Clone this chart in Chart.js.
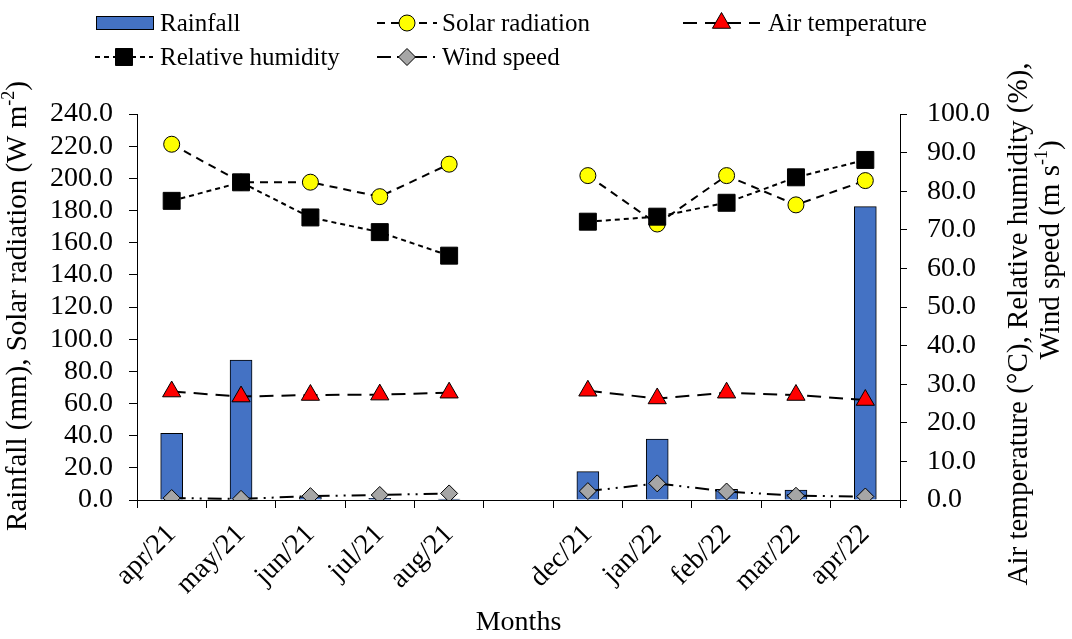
<!DOCTYPE html>
<html>
<head>
<meta charset="utf-8">
<script src="https://cdn.jsdelivr.net/npm/chart.js@4.4.0/dist/chart.umd.min.js"></script>
<style>
  html, body { margin: 0; padding: 0; background: #fff; }
  #wrap { width: 1072px; height: 639px; position: relative; }
</style>
</head>
<body>
<div id="wrap"><canvas id="weatherChart"></canvas></div>
<script>
// Data (blank category = gap between aug/21 and dec/21)
const months = ["apr/21", "may/21", "jun/21", "jul/21", "aug/21", "", "dec/21", "jan/22", "feb/22", "mar/22", "apr/22"];
const rainfall = [41.5, 87.0, 2.0, 1.0, 0.5, null, 17.6, 37.9, 6.6, 6.2, 182.4];
const solarRadiation = [221.2, 197.6, 197.6, 188.6, 208.8, null, 201.7, 171.6, 201.7, 183.5, 198.6];
const airTemperature = [28.1, 26.8, 27.2, 27.3, 27.8, null, 28.3, 26.3, 27.8, 27.2, 25.9];
const relativeHumidity = [77.5, 82.3, 73.2, 69.4, 63.3, null, 72.1, 73.4, 77.0, 83.6, 88.1];
const windSpeed = [0.5, 0.3, 1.0, 1.3, 1.7, null, 2.3, 4.3, 2.2, 1.1, 0.9];

// Axis ranges
const leftMin = 0, leftMax = 240, leftStep = 20;
const rightMin = 0, rightMax = 100, rightStep = 10;

const FONT = '"Liberation Serif", "Times New Roman", serif';

// draw a marker like chart.js does
function drawMarker(ctx, style, x, y, r, fill) {
  ctx.save();
  ctx.setLineDash([]);
  ctx.fillStyle = fill;
  ctx.strokeStyle = "#000";
  ctx.lineWidth = 1;
  ctx.beginPath();
  if (style === "circle") {
    ctx.arc(x, y, r, 0, Math.PI * 2);
  } else if (style === "rect") {
    const s = r * Math.SQRT1_2;
    ctx.rect(x - s, y - s, 2 * s, 2 * s);
  } else if (style === "triangle") {
    const a = (2 * Math.PI) / 3;
    ctx.moveTo(x, y - r);
    ctx.lineTo(x + r * Math.sin(a), y - r * Math.cos(a));
    ctx.lineTo(x - r * Math.sin(a), y - r * Math.cos(a));
    ctx.closePath();
  } else if (style === "rectRot") {
    ctx.moveTo(x, y - r);
    ctx.lineTo(x + r, y);
    ctx.lineTo(x, y + r);
    ctx.lineTo(x - r, y);
    ctx.closePath();
  }
  ctx.fill();
  ctx.stroke();
  ctx.restore();
}

// rotated (-90deg) text with superscript parts
function drawRotatedText(ctx, parts, cx, cy, size) {
  ctx.save();
  ctx.translate(cx, cy);
  ctx.rotate(-Math.PI / 2);
  let total = 0;
  parts.forEach((p) => {
    ctx.font = (p.sup ? Math.round(size * 0.62) : size) + "px " + FONT;
    p.w = ctx.measureText(p.t).width;
    total += p.w;
  });
  let x = -total / 2;
  ctx.textAlign = "left";
  ctx.textBaseline = "middle";
  ctx.fillStyle = "#000";
  parts.forEach((p) => {
    ctx.font = (p.sup ? Math.round(size * 0.62) : size) + "px " + FONT;
    ctx.fillText(p.t, x, p.sup ? -size * 0.3 : 0);
    x += p.w;
  });
  ctx.restore();
}

// Legend and y-axis titles
const extrasPlugin = {
  id: "extras",
  afterDraw(chart) {
    const ctx = chart.ctx;
    const ds = chart.data.datasets;

    const legendItems = [
      { i: 0, x0: 96, x1: 153, y: 23, tx: 160 },
      { i: 1, x0: 377, x1: 437, y: 23, tx: 442 },
      { i: 2, x0: 683, x1: 760, y: 23, tx: 768 },
      { i: 3, x0: 95, x1: 153, y: 57, tx: 160 },
      { i: 4, x0: 377, x1: 437, y: 57, tx: 442 },
    ];

    legendItems.forEach((it) => {
      const d = ds[it.i];
      if (d.type === "bar") {
        ctx.save();
        ctx.fillStyle = d.backgroundColor;
        ctx.strokeStyle = "#000";
        ctx.lineWidth = 1;
        ctx.fillRect(it.x0, it.y - 6.5, it.x1 - it.x0, 13);
        ctx.strokeRect(it.x0 + 0.5, it.y - 6.5, it.x1 - it.x0, 13);
        ctx.restore();
      } else {
        ctx.save();
        ctx.strokeStyle = "#000";
        ctx.lineWidth = 2;
        ctx.setLineDash(d.borderDash);
        ctx.beginPath();
        ctx.moveTo(it.x0, it.y);
        ctx.lineTo(it.x1, it.y);
        ctx.stroke();
        ctx.restore();
        drawMarker(ctx, d.pointStyle, (it.x0 + it.x1) / 2, it.y, d.pointRadius, d.pointBackgroundColor);
      }
      ctx.save();
      ctx.font = "25px " + FONT;
      ctx.fillStyle = "#000";
      ctx.textAlign = "left";
      ctx.textBaseline = "middle";
      ctx.fillText(d.label, it.tx, it.y + 1);
      ctx.restore();
    });

    const midY = (chart.chartArea.top + chart.chartArea.bottom) / 2;
    drawRotatedText(ctx, [{ t: "Rainfall (mm), Solar radiation (W m" }, { t: "-2", sup: true }, { t: ")" }], 18, midY - 1, 29);
    drawRotatedText(ctx, [{ t: "Air temperature (°C), Relative humidity (%)," }], 1019, 324, 29);
    drawRotatedText(ctx, [{ t: "Wind speed (m s" }, { t: "-1", sup: true }, { t: ")" }], 1051, 250, 29);
  },
};

document.addEventListener("DOMContentLoaded", function () {
  const ctx = document.getElementById("weatherChart");
  new Chart(ctx, {
    type: "bar",
    data: {
      labels: months,
      datasets: [
        {
          type: "bar",
          label: "Rainfall",
          data: rainfall,
          yAxisID: "y",
          backgroundColor: "#4472C4",
          borderColor: "#000",
          borderWidth: 1,
          barThickness: 22,
          order: 10,
        },
        {
          type: "line",
          label: "Solar radiation",
          data: solarRadiation,
          yAxisID: "y",
          borderColor: "#000",
          borderWidth: 2,
          borderDash: [8, 6],
          pointStyle: "circle",
          pointRadius: 8,
          pointBackgroundColor: "#FFFF00",
          pointBorderColor: "#000",
          pointBorderWidth: 1,
          order: 4,
        },
        {
          type: "line",
          label: "Air temperature",
          data: airTemperature,
          yAxisID: "y1",
          borderColor: "#000",
          borderWidth: 2,
          borderDash: [14, 8],
          pointStyle: "triangle",
          pointRadius: 10.5,
          pointBackgroundColor: "#FF0000",
          pointBorderColor: "#000",
          pointBorderWidth: 1,
          order: 3,
        },
        {
          type: "line",
          label: "Relative humidity",
          data: relativeHumidity,
          yAxisID: "y1",
          borderColor: "#000",
          borderWidth: 2,
          borderDash: [5, 4],
          pointStyle: "rect",
          pointRadius: 12,
          pointBackgroundColor: "#000",
          pointBorderColor: "#000",
          pointBorderWidth: 1,
          order: 2,
        },
        {
          type: "line",
          label: "Wind speed",
          data: windSpeed,
          yAxisID: "y1",
          borderColor: "#000",
          borderWidth: 2,
          borderDash: [14, 6, 2, 6, 2, 6],
          pointStyle: "rectRot",
          pointRadius: 8.5,
          pointBackgroundColor: "#A6A6A6",
          pointBorderColor: "#000",
          pointBorderWidth: 1,
          order: 1,
        },
      ],
    },
    options: {
      responsive: true,
      maintainAspectRatio: false,
      animation: false,
      layout: { padding: { top: 114, left: 0, right: 0, bottom: 0 } },
      plugins: {
        legend: { display: false },
        tooltip: { enabled: false },
      },
      scales: {
        x: {
          offset: true,
          grid: { offset: true, drawOnChartArea: false, tickLength: 8, color: "#000", lineWidth: 1 },
          border: { color: "#000", width: 1 },
          ticks: {
            font: { family: FONT, size: 28 },
            color: "#000",
            minRotation: 45,
            maxRotation: 45,
            autoSkip: false,
            padding: 10,
          },
          title: {
            display: true,
            text: "Months",
            font: { family: FONT, size: 28 },
            color: "#000",
            padding: { top: 0, bottom: 0 },
          },
          afterFit(scale) {
            scale.height = 139;
          },
        },
        y: {
          position: "left",
          min: leftMin,
          max: leftMax,
          ticks: {
            stepSize: leftStep,
            autoSkip: false,
            callback: (v) => v.toFixed(1),
            font: { family: FONT, size: 28 },
            color: "#000",
            padding: 16,
          },
          grid: { drawOnChartArea: false, tickLength: 8, color: "#000" },
          border: { color: "#000", width: 1 },
          afterFit(scale) {
            scale.width = 137;
          },
        },
        y1: {
          position: "right",
          min: rightMin,
          max: rightMax,
          ticks: {
            stepSize: rightStep,
            autoSkip: false,
            callback: (v) => v.toFixed(1),
            font: { family: FONT, size: 28 },
            color: "#000",
            padding: 20,
          },
          grid: { drawOnChartArea: false, tickLength: 7, color: "#000" },
          border: { color: "#000", width: 1 },
          afterFit(scale) {
            scale.width = 172;
          },
        },
      },
    },
    plugins: [extrasPlugin],
  });
});
</script>
</body>
</html>
